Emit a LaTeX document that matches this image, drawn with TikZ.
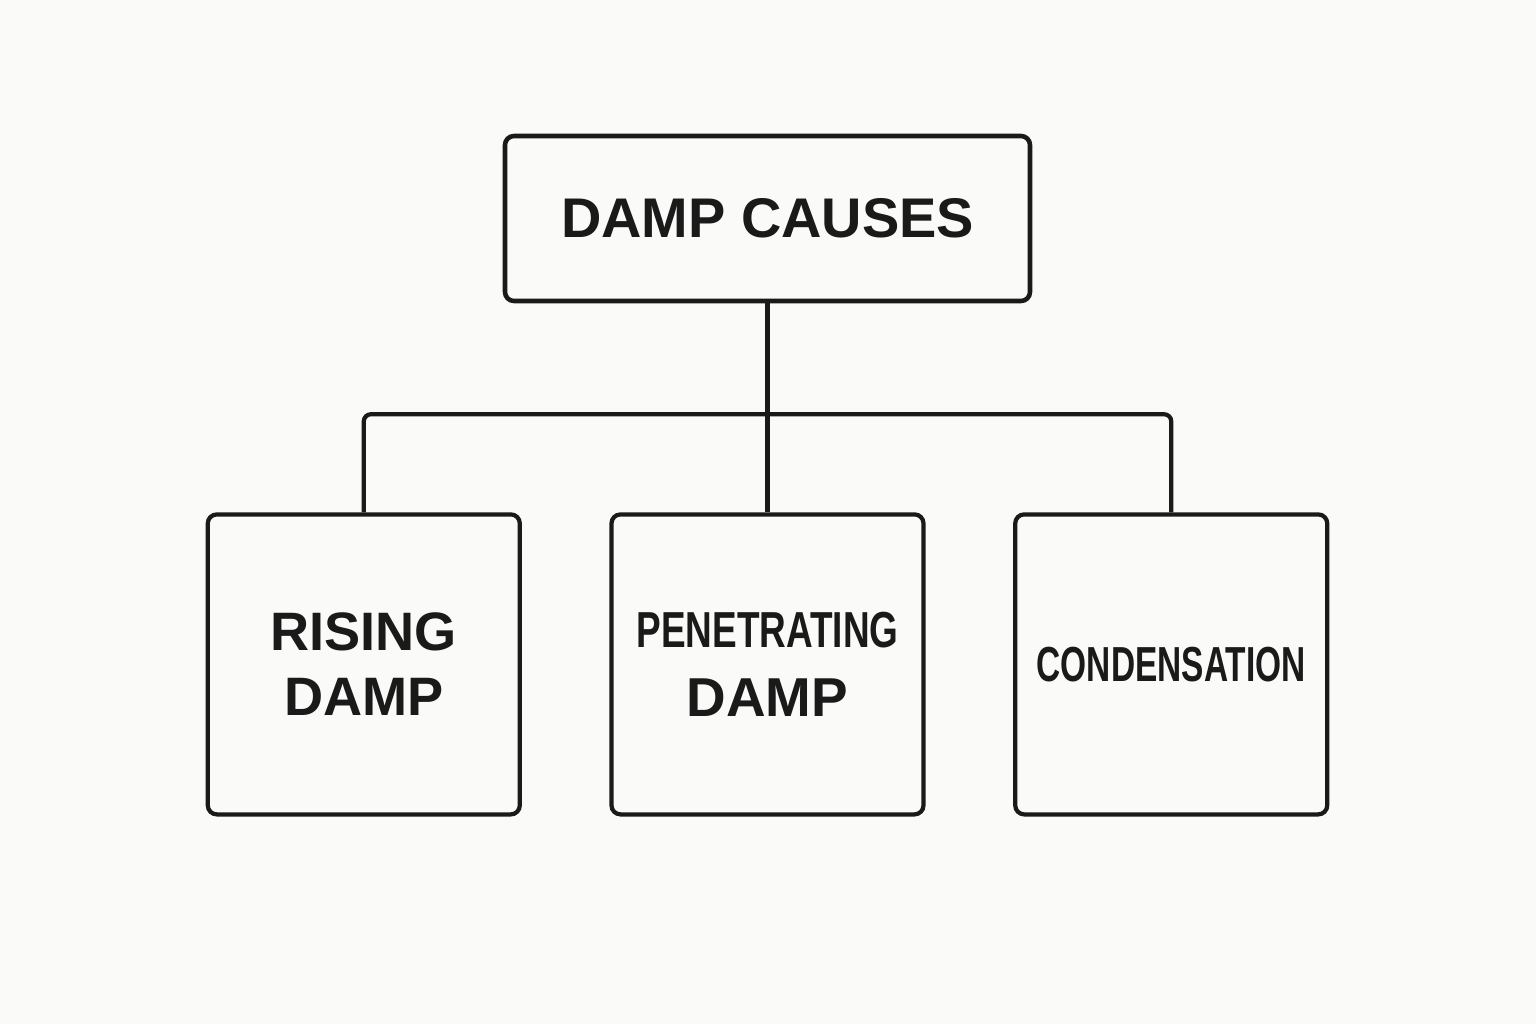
\documentclass[tikz,border=0pt]{standalone}
\usepackage{fontspec}
\setmainfont{Liberation Sans}
\usepackage{graphicx}
\usepackage{xcolor}
\usepackage{tikz}
\usetikzlibrary{positioning, calc}
\definecolor{ink}{HTML}{1A1A1A}
\definecolor{paper}{HTML}{FAFAF8}

\begin{document}
\begin{tikzpicture}[
    auto, align=center,
    root/.style = {
      rectangle, draw = ink, line width = 1.3pt, rounded corners = 0.09cm,
      minimum width = 5.25cm, minimum height = 1.65cm, text = ink,
      font = \fontsize{15.9pt}{19pt}\selectfont\bfseries
    },
    cause/.style = {
      rectangle, draw = ink, line width = 1.2pt, rounded corners = 0.09cm,
      minimum width = 3.12cm, minimum height = 3.0cm, text = ink,
      inner sep = 0pt
    },
    % tree connector
    link/.style = {
      draw = ink, line width = 1.2pt, rounded corners = 0.07cm
    },
    ]
\useasboundingbox (0,0) rectangle (15.36,10.24);
\fill [paper] (0,0) rectangle (15.36,10.24);

\node  [root]  (damp)  at (7.675,8.055)  {DAMP CAUSES};
\node  [cause, font = \fontsize{15.6pt}{19.8pt}\selectfont\bfseries]
  (penetrating)  [below = 2.09cm of damp]
  {\fontsize{14.4pt}{19.8pt}\selectfont\scalebox{0.73}[1]{PENETRATING}\\DAMP};
\node  [cause, font = \fontsize{15.4pt}{18.5pt}\selectfont\bfseries]
  (rising)  [left = 0.875cm of penetrating]  {RISING\\DAMP};
\node  [cause, font = \fontsize{14pt}{17pt}\selectfont\bfseries]
  (condensation)  [right = 0.875cm of penetrating]
  {\scalebox{0.68}[1]{CONDENSATION}};

\coordinate  (split)  at ([yshift=-1.11cm]damp.south);

\draw  [link]  (damp.south)  --  (penetrating.north);
\draw  [link]  (rising.north)  |-  (split)  -|  (condensation.north);

\end{tikzpicture}
\end{document}
